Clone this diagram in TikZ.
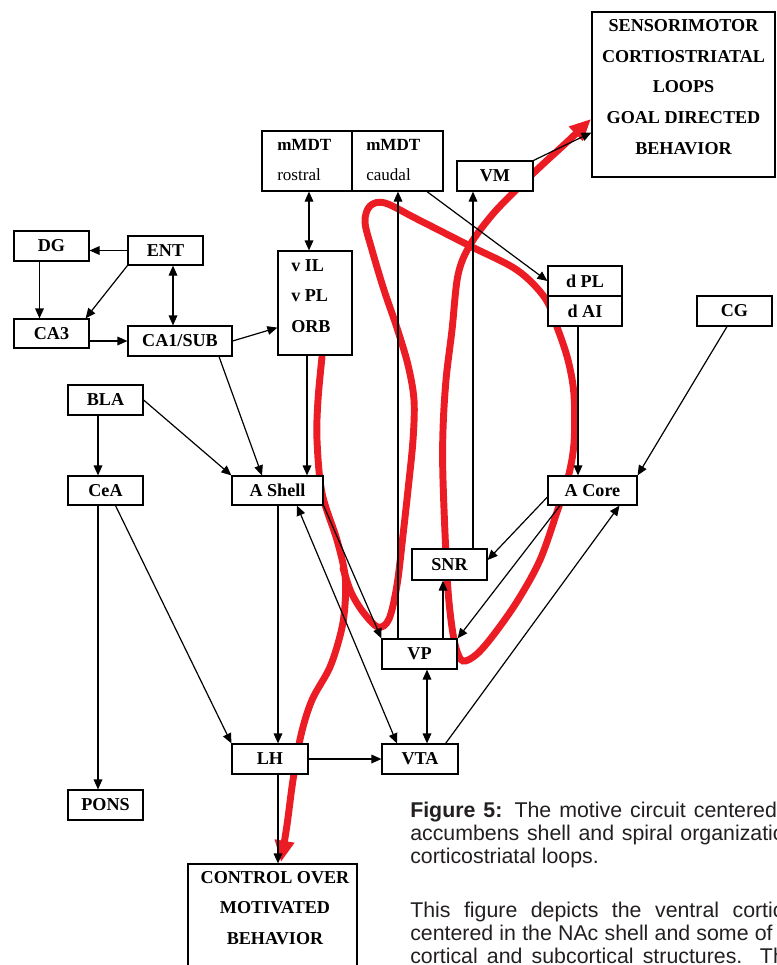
\documentclass[tikz,border=0pt]{standalone}
\usepackage{fontspec}
\setmainfont{Liberation Serif}
\newfontfamily\capfont{Liberation Sans}
\usetikzlibrary{arrows.meta,calc,fit}
\definecolor{loopred}{RGB}{236,28,36}
\definecolor{captext}{RGB}{35,31,32}
\begin{document}
\begin{tikzpicture}[x=0.75pt,y=-0.75pt,
  box/.style={draw=black,line width=0.9pt,inner sep=0pt,fill=white},
  lbl/.style={inner sep=0pt,font=\fontsize{13.6}{15}\selectfont\bfseries},
  arr/.style={line width=0.9pt,-{Triangle[length=7.5pt,width=6.5pt]}},
  darr/.style={line width=0.9pt,{Triangle[length=7.5pt,width=6.5pt]}-{Triangle[length=7.5pt,width=6.5pt]}},
  redloop/.style={draw=loopred,line width=5.2pt,line cap=round,
    -{Triangle[length=16pt,width=14pt]}},
  multitxt/.style={inner sep=0pt,font=\fontsize{13.6}{23}\selectfont\bfseries},
  captxt/.style={inner sep=0pt,anchor=base west,text=captext,
    font=\capfont\fontsize{16}{19}\selectfont}]
\useasboundingbox (0,0) rectangle (777,965);
\clip (0,0) rectangle (777,965);

% ---------- red spiral (drawn first, boxes lie over it) ----------
\draw[redloop] plot[smooth,tension=0.55] coordinates {
  (322,357) (318,400) (317,440) (322,493) (337,540) (345,575) (345,605)
  (341,632) (330,667) (312,700) (301,735) (293,780) (287,825) (281,862)};
\draw[redloop] plot[smooth,tension=0.55] coordinates {
  (343,568) (351,592) (363,612) (378,627) (389,619) (397,585) (403,535)
  (408,490) (413,440) (414,400) (408,365) (397,328) (384,290) (372,250)
  (365,222) (370,206) (385,203) (417,219) (470,246) (517,270) (545,298)
  (557,327) (568,360) (574,395) (574,443) (568,478) (557,512) (540,560)
  (518,600) (495,633) (477,654) (463,661) (456,648) (451,620) (447,575)
  (443,480) (443,430) (446,380) (452,330) (458,275) (470,245) (492,215)
  (517,189) (542,165) (566,143) (591,119)};

% ---------- boxes ----------
\node[box,fit={(592,12) (775,177)}] (SM) {};
\node[multitxt,align=center] (SMt) at (683.5,87)
  {SENSORIMOTOR\\CORTIOSTRIATAL\\LOOPS\\GOAL DIRECTED\\BEHAVIOR};
\node[box,fit={(262,131) (352,191)}] (mMDTr) {};
\node[box,fit={(352,131) (443,191)}] (mMDTc) {};
\node[inner sep=0pt,anchor=west,align=left,font=\fontsize{12.8}{23}\selectfont] (mMDTrt) at (277,160)
  {\textbf{mMDT}\\rostral};
\node[inner sep=0pt,anchor=west,align=left,font=\fontsize{12.8}{23}\selectfont] (mMDTct) at (366,160)
  {\textbf{mMDT}\\caudal};
\node[box,fit={(457,161) (533,191)},label={[lbl]center:VM}] (VM) {};
\node[box,fit={(278,251) (352,355)}] (vIL) {};
\node[multitxt,anchor=west,align=left] (vILt) at (291,296) {v IL\\v PL\\ORB};
\node[box,fit={(548,266) (622,296)},label={[lbl]center:d PL}] (dPL) {};
\node[box,fit={(548,296) (622,326)},label={[lbl]center:d AI}] (dAI) {};
\node[box,fit={(697,296) (772,326)},label={[lbl]center:CG}] (CG) {};
\node[box,fit={(14,231) (89,261)},label={[lbl]center:DG}] (DG) {};
\node[box,fit={(128,236) (203,265)},label={[lbl]center:ENT}] (ENT) {};
\node[box,fit={(14,319) (89,348)},label={[lbl]center:CA3}] (CA3) {};
\node[box,fit={(128,326) (232,356)},label={[lbl]center:CA1/SUB}] (CA1) {};
\node[box,fit={(68,385) (143,415)},label={[lbl]center:BLA}] (BLA) {};
\node[box,fit={(68,476) (143,505)},label={[lbl]center:CeA}] (CeA) {};
\node[box,fit={(232,476) (323,505)},label={[lbl]center:A Shell}] (AShell) {};
\node[box,fit={(548,476) (637,505)},label={[lbl]center:A Core}] (ACore) {};
\node[box,fit={(412,549) (487,580)},label={[lbl]center:SNR}] (SNR) {};
\node[box,fit={(382,639) (457,669)},label={[lbl]center:VP}] (VP) {};
\node[box,fit={(232,744) (308,774)},label={[lbl]center:LH}] (LH) {};
\node[box,fit={(382,744) (458,774)},label={[lbl]center:VTA}] (VTA) {};
\node[box,fit={(68,790) (143,820)},label={[lbl]center:PONS}] (PONS) {};
\node[box,fit={(188,864) (357,985)}] (CTRL) {};
\node[multitxt,align=center] (CTRLt) at (275,908) {CONTROL OVER\\MOTIVATED\\BEHAVIOR};

% ---------- black connectors ----------
\draw[arr] (ENT.west) -- (ENT.west -| DG.east);
\draw[arr] ($(DG.south)+(-12,0)$) -- ($(CA3.north)+(-12,0)$);
\draw[arr] (ENT.south west) -- ($(CA3.north east)+(-4,0)$);
\draw[darr] ($(ENT.south)+(7.5,0)$) -- ($(CA1.north)+(-7,0)$);
\draw[arr] ($(CA3.east)+(0,7.5)$) -- (CA1.west);
\draw[arr] (CA1.east) -- ($(vIL.south west)+(0,-28)$);
\draw[darr] ($(mMDTr.south)+(2,0)$) -- ($(vIL.north)+(-6,0)$);
\draw[arr] ($(CA1.south)+(39,0)$) -- ($(AShell.north)+(-15.5,0)$);
\draw[arr] ($(vIL.south)+(-8,0)$) -- ($(AShell.north)+(29.5,0)$);
\draw[arr] (BLA.east) -- (AShell.north west);
\draw[arr] ($(BLA.south)+(-7.5,0)$) -- ($(CeA.north)+(-7.5,0)$);
\draw[arr] ($(CeA.south)+(-7.5,0)$) -- ($(PONS.north)+(-7.5,0)$);
\draw[arr] ($(CeA.south)+(10,0)$) -- (LH.north west);
\draw[arr] ($(AShell.south)+(0.5,0)$) -- ($(LH.north)+(8,0)$);
\draw[arr] (LH.east) -- (VTA.west);
\draw[arr] ($(LH.south)+(8,0)$) -- ($(CTRL.north)+(5.5,0)$);
\draw[darr] ($(AShell.south)+(19.5,0)$) -- ($(VTA.north)+(-23,0)$);
\draw[arr] (AShell.south east) -- (VP.north west);
\draw[darr] ($(VP.south)+(7.5,0)$) -- ($(VTA.north)+(7,0)$);
\draw[arr] ($(VP.north)+(23.5,0)$) -- ($(SNR.south)+(-6.5,0)$);
\draw[arr] ($(SNR.north)+(23.5,0)$) -- ($(VM.south)+(-22,0)$);
\draw[arr] ($(VP.north)+(-21.5,0)$) -- ($(mMDTc.south)+(0.5,0)$);
\draw[arr] ($(ACore.west)+(0,6.5)$) -- ($(SNR.east)+(0,-4.5)$);
\draw[arr] ($(ACore.south)+(-32.5,0)$) -- (VP.north east);
\draw[arr] ($(VTA.north east)+(-13,0)$) -- ($(ACore.south)+(27,0)$);
\draw[arr] ($(dAI.south)+(-7,0)$) -- ($(ACore.north)+(-14.5,0)$);
\draw[arr] ($(CG.south)+(-7.5,0)$) -- (ACore.north east);
\draw[arr] ($(mMDTc.south)+(29.5,0)$) -- (dPL.west);
\draw[arr] (VM.north east) -- ($(SM.west)+(0,38)$);

% ---------- caption ----------
\node[captxt] (c1) at (410,817) {\makebox[275pt][s]{\textbf{Figure 5:} The motive circuit centered}};
\node[captxt] (c2) at (410,840) {\makebox[281pt][s]{accumbens shell and spiral organizatio}};
\node[captxt] (c3) at (410,863) {corticostriatal loops.};
\node[captxt] (c4) at (410,917) {\makebox[280pt][s]{This figure depicts the ventral cortic}};
\node[captxt] (c5) at (410,940) {\makebox[280pt][s]{centered in the NAc shell and some of i}};
\node[captxt] (c6) at (410,963) {\makebox[281pt][s]{cortical and subcortical structures. Th}};
\end{tikzpicture}
\end{document}
